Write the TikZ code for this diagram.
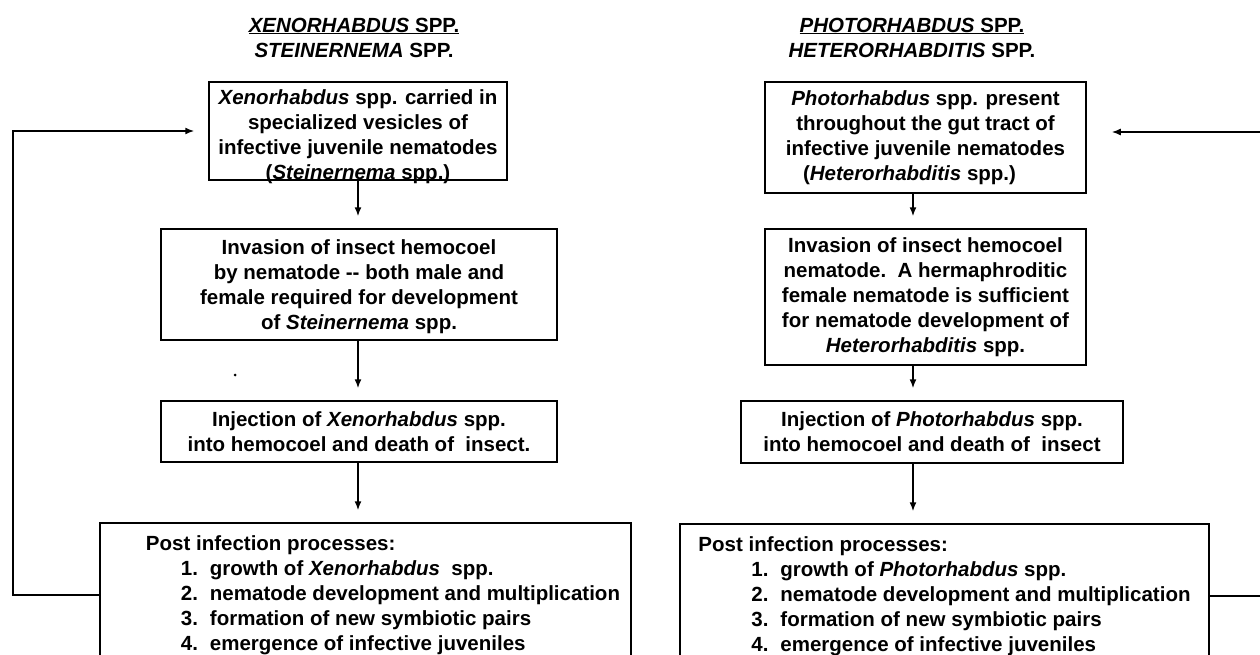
\documentclass[tikz,border=0pt]{standalone}
\usepackage{fontspec}
\setmainfont{Liberation Sans}
\usetikzlibrary{positioning}
\usetikzlibrary{arrows.meta}

\tikzset{
 stage/.style={draw,rectangle,line width=1.5pt,inner sep=0pt,align=center,font=\fontsize{20.5}{25}\selectfont\bfseries},
 heading/.style={align=center,font=\fontsize{20.5}{25}\selectfont\bfseries},
 flow/.style={-{Latex[length=9pt,width=7pt]},line width=1.5pt,shorten >=12pt}
}
\newcommand{\gen}[1]{\textit{#1}}
\newcommand{\procline}[2]{\makebox[29pt][l]{#1}#2}

\begin{document}
\begin{tikzpicture}[x=1pt,y=-1pt]
 \useasboundingbox (0,0) rectangle (1260,655);
 \clip (0,0) rectangle (1260,655);
 \coordinate (laxis) at (358,0);
 \coordinate (raxis) at (913,0);
 \coordinate (lback) at (13,360);
 \coordinate (rback) at (1275,360);

 \node[heading] (ltitle) at (354,37.5) {\underline{\gen{XENORHABDUS} SPP.}\\\gen{STEINERNEMA} SPP.};
 \node[heading] (rtitle) at (912,37.5) {\underline{\gen{PHOTORHABDUS} SPP.}\\\gen{HETERORHABDITIS} SPP.};

 \node[stage,minimum width=298,minimum height=98] (ljuv) at (358,131)
  {\rule{0pt}{23pt}\gen{Xenorhabdus} spp. carried in\\specialized vesicles of\\infective juvenile nematodes\\\raisebox{0pt}[\height][0pt]{(\gen{Steinernema} spp.)}};
 \node[stage,minimum width=396,minimum height=111] (linv) at (359,284.5)
  {\rule{0pt}{19pt}Invasion of insect hemocoel\\by nematode {-}{-} both male and\\female required for development\\of \gen{Steinernema} spp.};
 \node[stage,minimum width=396,minimum height=61] (linj) at (359,431.5)
  {Injection of \gen{Xenorhabdus} spp.\\into hemocoel and death of\ \ insect.};
 \node[stage,align=left,inner xsep=10pt,minimum width=531,minimum height=144] (lpost) at (365.5,595)
  {\hspace*{35pt}Post infection processes:\\
   \hspace*{70pt}\procline{1.}{growth of \gen{Xenorhabdus}\ \ spp.}\\
   \hspace*{70pt}\procline{2.}{nematode development and multiplication}\\
   \hspace*{70pt}\procline{3.}{formation of new symbiotic pairs}\\
   \hspace*{70pt}\procline{4.}{emergence of infective juveniles}};

 \node[stage,minimum width=321,minimum height=111] (rjuv) at (925.5,137.5)
  {\gen{Photorhabdus} spp. present\\throughout the gut tract of\\infective juvenile nematodes\\(\gen{Heterorhabditis} spp.)\hspace*{32pt}};
 \node[stage,minimum width=321,minimum height=136] (rinv) at (925.5,297)
  {Invasion of insect hemocoel\\nematode.\ \ A hermaphroditic\\female nematode is sufficient\\for nematode development of\\\gen{Heterorhabditis} spp.};
 \node[stage,minimum width=382,minimum height=62] (rinj) at (932,432)
  {Injection of \gen{Photorhabdus} spp.\\into hemocoel and death of\ \ insect};
 \node[stage,align=left,inner xsep=16pt,minimum width=529,minimum height=144] (rpost) at (944.5,596)
  {Post infection processes:\\
   \hspace*{53pt}\procline{1.}{growth of \gen{Photorhabdus} spp.}\\
   \hspace*{53pt}\procline{2.}{nematode development and multiplication}\\
   \hspace*{53pt}\procline{3.}{formation of new symbiotic pairs}\\
   \hspace*{53pt}\procline{4.}{emergence of infective juveniles}};

 \draw[flow] (ljuv.south -| laxis) -- (linv.north -| laxis);
 \draw[flow] (linv.south -| laxis) -- (linj.north -| laxis);
 \draw[flow] (linj.south -| laxis) -- (lpost.north -| laxis);
 \draw[flow] (rjuv.south -| raxis) -- (rinv.north -| raxis);
 \draw[flow] (rinv.south -| raxis) -- (rinj.north -| raxis);
 \draw[flow] (rinj.south -| raxis) -- (rpost.north -| raxis);

 \draw[flow,shorten >=14pt] (lpost.west) -| (lback) |- (ljuv.west);
 \draw[flow,shorten >=25pt] (rpost.east) -| (rback) |- ([yshift=5.5pt]rjuv.east);

 \fill (235,375) circle (1.5);
\end{tikzpicture}
\end{document}
